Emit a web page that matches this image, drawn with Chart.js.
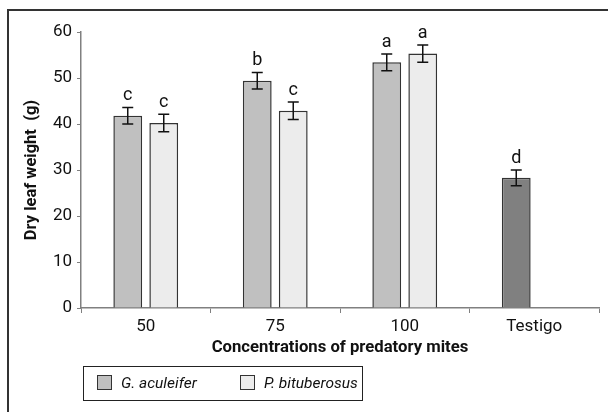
<!DOCTYPE html>
<html>
<head>
<meta charset="utf-8">
<script src="https://cdn.jsdelivr.net/npm/chart.js@4.4.1/dist/chart.umd.min.js"></script>
<style>
  html, body { margin: 0; padding: 0; background: #fff; }
  #wrap { position: relative; width: 608px; height: 412px; overflow: hidden; }
  #frame { position: absolute; left: 7px; top: 9px; width: 620px; height: 420px;
           border-top: 2px solid #333; border-left: 2px solid #333; }
  #chartBox { position: absolute; left: 0; top: 0; width: 608px; height: 412px; }
  #legend { position: absolute; left: 83px; top: 366px; width: 280px; height: 35px;
            border: 1px solid #222; box-sizing: border-box;
            font-family: Roboto, 'Liberation Sans', sans-serif;
            font-style: italic; font-size: 15.5px; color: #111; }
  .item { position: absolute; top: 6px; line-height: 20px; white-space: nowrap; }
  .sw { display: inline-block; width: 13px; height: 13px; border: 1px solid #333;
        vertical-align: -2px; margin-right: 9px; }
</style>
</head>
<body>
<div id="wrap">
  <div id="frame"></div>
  <div id="chartBox"><canvas id="chart" width="608" height="412"></canvas></div>
  <div id="legend">
    <span class="item" style="left:13px"><span class="sw" style="background:#c0c0c0"></span>G. aculeifer</span>
    <span class="item" style="left:156px"><span class="sw" style="background:#ececec"></span>P. bituberosus</span>
  </div>
</div>
<script>
// Data
const categories = ['50', '75', '100', 'Testigo'];
const gValues = [41.8, 49.4, 53.4, 28.3];
const pValues = [40.2, 42.9, 55.3, null];
const gErrors = [1.8, 1.8, 1.8, 1.7];
const pErrors = [1.9, 1.9, 1.9, null];
const gLetters = ['c', 'b', 'a', 'd'];
const pLetters = ['c', 'c', 'a', null];
const yMin = 0, yMax = 60, yStep = 10;

const fam = "Roboto, 'Liberation Sans', sans-serif";

// error bars + significance letters
const errorBars = {
    id: 'errorBars',
    afterDatasetsDraw(chart) {
        const ctx = chart.ctx;
        const y = chart.scales.y;
        chart.data.datasets.forEach((ds, di) => {
            const meta = chart.getDatasetMeta(di);
            meta.data.forEach((bar, i) => {
                const v = ds.data[i];
                const e = ds.errors[i];
                if (v == null) return;
                const top = y.getPixelForValue(v + e);
                const bot = y.getPixelForValue(v - e);
                ctx.save();
                ctx.strokeStyle = '#111';
                ctx.lineWidth = 1.5;
                ctx.beginPath();
                ctx.moveTo(bar.x, top); ctx.lineTo(bar.x, bot);
                ctx.moveTo(bar.x - 5.5, top); ctx.lineTo(bar.x + 5.5, top);
                ctx.moveTo(bar.x - 5.5, bot); ctx.lineTo(bar.x + 5.5, bot);
                ctx.stroke();
                const letter = ds.letters[i];
                if (letter) {
                    ctx.fillStyle = '#111';
                    ctx.font = '18px ' + fam;
                    ctx.textAlign = 'center';
                    ctx.textBaseline = 'alphabetic';
                    ctx.fillText(letter, bar.x, top - 7);
                }
                ctx.restore();
            });
        });
    }
};

new Chart(document.getElementById('chart').getContext('2d'), {
    type: 'bar',
    data: {
        labels: categories,
        datasets: [
            {
                label: 'G. aculeifer',
                data: gValues,
                errors: gErrors,
                letters: gLetters,
                backgroundColor: ['#c0c0c0', '#c0c0c0', '#c0c0c0', '#808080'],
                borderColor: '#333',
                borderWidth: 1.5,
                barPercentage: 0.8,
                categoryPercentage: 0.556
            },
            {
                label: 'P. bituberosus',
                data: pValues,
                errors: pErrors,
                letters: pLetters,
                backgroundColor: '#ececec',
                borderColor: '#333',
                borderWidth: 1.5,
                barPercentage: 0.8,
                categoryPercentage: 0.556
            }
        ]
    },
    options: {
        responsive: false,
        animation: false,
        layout: { padding: { left: 8, top: 32, right: 9, bottom: 52 } },
        plugins: {
            legend: { display: false },
            tooltip: { enabled: false }
        },
        scales: {
            x: {
                grid: { drawOnChartArea: false, color: '#808080', tickLength: 5 },
                border: { color: '#808080', width: 1.5 },
                ticks: { color: '#111', font: { family: fam, size: 17 }, padding: 4 },
                title: {
                    display: true,
                    text: 'Concentrations of predatory mites',
                    color: '#111',
                    font: { family: fam, size: 16.7, weight: 'bold' },
                    padding: { top: 0, bottom: 2 }
                },
                afterFit: (s) => { s.height = 52; }
            },
            y: {
                min: yMin,
                max: yMax,
                grid: { drawOnChartArea: false, color: '#808080', tickLength: 4 },
                border: { color: '#808080', width: 1.5 },
                ticks: { stepSize: yStep, color: '#111', font: { family: fam, size: 17 }, padding: 5 },
                title: {
                    display: true,
                    text: 'Dry leaf weight  (g)',
                    color: '#111',
                    font: { family: fam, size: 16.5, weight: 'bold' },
                    padding: { top: 14, bottom: 0 }
                },
                afterFit: (s) => { s.width = 73; }
            }
        }
    },
    plugins: [errorBars]
});
</script>
</body>
</html>
